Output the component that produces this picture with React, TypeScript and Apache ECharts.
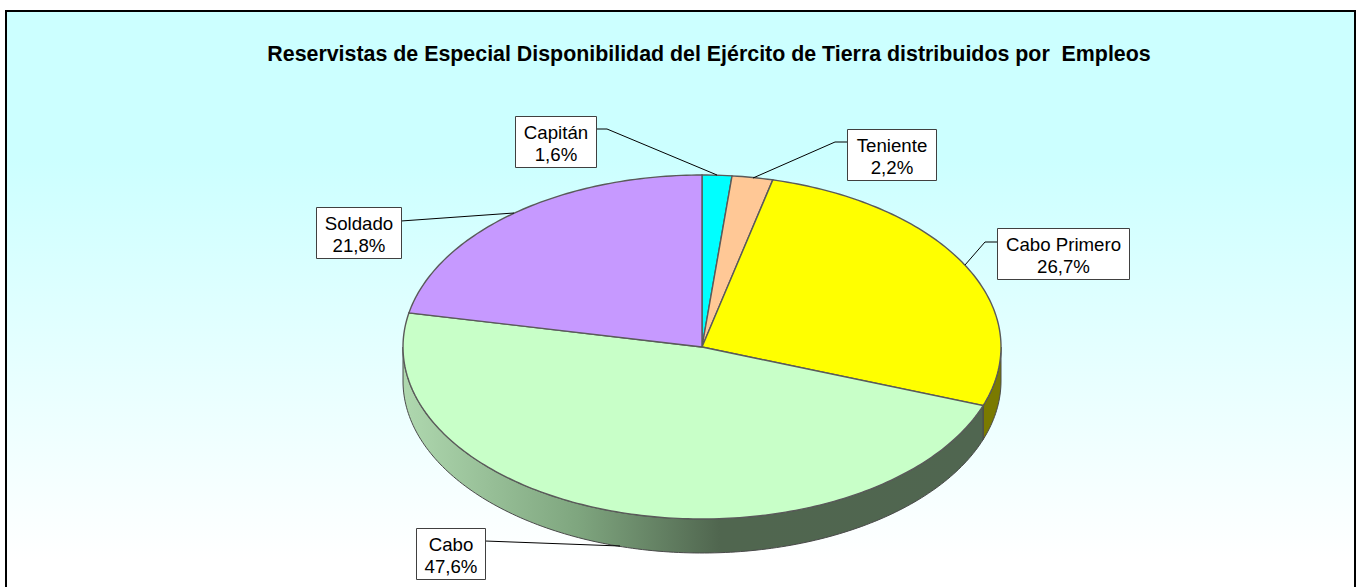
import React, { useEffect, useRef } from "react";
import * as echarts from "echarts";

const TITLE = "Reservistas de Especial Disponibilidad del Ejército de Tierra distribuidos por  Empleos";
const categories = ["Capitán", "Teniente", "Cabo Primero", "Cabo", "Soldado"];
const values = [1.6, 2.2, 26.7, 47.6, 21.8];
const topColors = ["#00FFFF", "#FFC896", "#FFFF00", "#C8FFC8", "#C699FF"];

// Geometry of the tilted pie
const CX = 702;
const CY = 347;
const RX = 299;
const RY = 172;
const DEPTH = 34;
const FONT = '"Liberation Sans", Arial, sans-serif';

// Label boxes [x, y, w, h] and leader lines, by category
const boxes = [
  [515, 116, 81, 51],
  [847, 129, 89, 51],
  [997, 228, 132, 51],
  [416, 528, 69, 51],
  [316, 207, 85, 51],
];
const leaders = [
  [[596, 129], [607, 129], [717, 175]],
  [[847, 142], [835, 142], [753, 178]],
  [[997, 242], [985, 242], [965, 265]],
  [[485, 541], [620, 546]],
  [[401, 221], [514, 213]],
];

const total = values.reduce((a, b) => a + b, 0);
const rim = (deg: number, dy = 0): [number, number] => {
  const t = (deg * Math.PI) / 180;
  return [CX + RX * Math.sin(t), CY - RY * Math.cos(t) + dy];
};
const arc = (a: number, b: number, dy = 0) => {
  const n = Math.max(2, Math.ceil(Math.abs(b - a)));
  const pts: [number, number][] = [];
  for (let i = 0; i <= n; i++) pts.push(rim(a + ((b - a) * i) / n, dy));
  return pts;
};

const wallFill = (i: number) => {
  if (categories[i] === "Cabo") {
    return new echarts.graphic.LinearGradient(
      CX - RX, 0, 983, 0,
      [
        { offset: 0, color: "#AFD8AF" },
        { offset: 0.3, color: "#7FA67F" },
        { offset: 0.546, color: "#50664F" },
        { offset: 1, color: "#506650" },
      ],
      true,
    );
  }
  return "#7A7A00";
};

function renderItem(params: any, api: any) {
  const i = params.dataIndex;
  const before = values.slice(0, i).reduce((a, b) => a + b, 0);
  const a0 = (before / total) * 360;
  const a1 = ((before + api.value(0)) / total) * 360;
  const children: any[] = [];
  const stroke = { stroke: "#5a5a5a", lineWidth: 1.4 };

  const wa = Math.max(a0, 90);
  const wb = Math.min(a1, 270);
  if (wb > wa) {
    children.push({
      type: "polygon",
      z2: 1,
      shape: { points: [...arc(wa, wb), ...arc(wb, wa, DEPTH)] },
      style: { fill: wallFill(i), stroke: "#4a4a4a", lineWidth: 1 },
    });
  }
  children.push({
    type: "polygon",
    z2: 2,
    shape: { points: [[CX, CY], ...arc(a0, a1)] },
    style: { fill: topColors[i], ...stroke },
  });
  children.push({
    type: "polyline",
    z2: 3,
    shape: { points: leaders[i] },
    style: { fill: "none", stroke: "#000000", lineWidth: 1 },
  });
  const [x, y, w, h] = boxes[i];
  children.push({
    type: "rect",
    z2: 4,
    shape: { x: x + 0.5, y: y + 0.5, width: w, height: h },
    style: { fill: "#FFFFFF", stroke: "#404040", lineWidth: 1 },
  });
  const label = `${categories[i]}\n${api.value(0).toFixed(1).replace(".", ",")}%`;
  children.push({
    type: "text",
    z2: 5,
    style: {
      text: label,
      x: x + w / 2 + 0.5,
      y: y + h / 2 + 1.5,
      align: "center",
      verticalAlign: "middle",
      fontFamily: FONT,
      fontSize: 18.67,
      lineHeight: 22,
      fill: "#000000",
    },
  });
  return { type: "group", children };
}

export default function App() {
  const ref = useRef<HTMLDivElement>(null);
  useEffect(() => {
    document.body.style.margin = "0";
    const chart = echarts.init(ref.current!, null, { renderer: "svg" });
    chart.setOption({
      animation: false,
      title: {
        text: TITLE,
        left: 704,
        top: 38,
        textAlign: "center",
        textStyle: { fontFamily: FONT, fontSize: 21.38, fontWeight: "bold", color: "#000000" },
      },
      graphic: [
        {
          type: "rect",
          z: -10,
          shape: { x: 6, y: 11, width: 1349, height: 590 },
          style: {
            fill: new echarts.graphic.LinearGradient(
              0, 0, 0, 1,
              [
                { offset: 0, color: "#CCFFFF" },
                { offset: 0.25, color: "#CCFFFF" },
                { offset: 0.93, color: "#FFFFFF" },
                { offset: 1, color: "#FFFFFF" },
              ],
            ),
            stroke: "#000000",
            lineWidth: 2,
          },
        },
      ],
      series: [
        {
          type: "custom",
          coordinateSystem: "none",
          data: values.map((v, i) => ({ name: categories[i], value: v })),
          renderItem,
          clip: false,
        },
      ],
    });
    return () => chart.dispose();
  }, []);
  return <div ref={ref} style={{ width: 1358, height: 587 }} />;
}
